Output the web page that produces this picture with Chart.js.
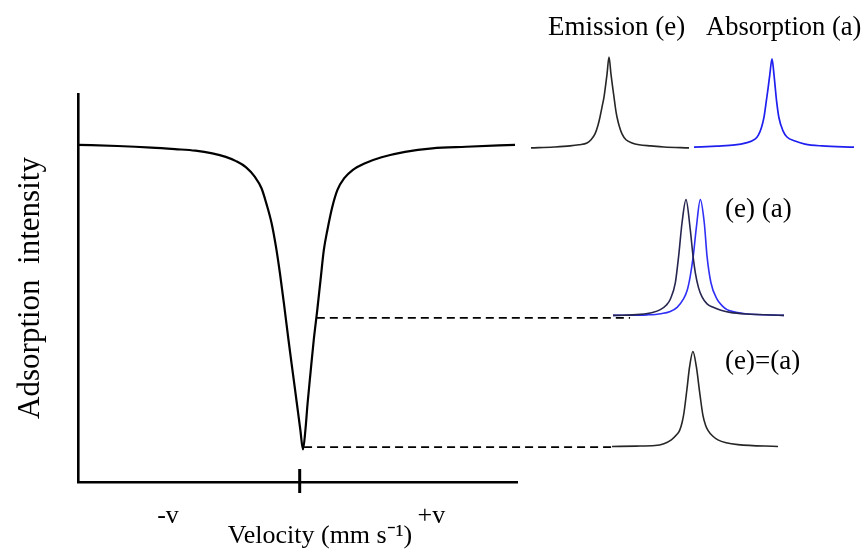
<!DOCTYPE html>
<html>
<head>
<meta charset="utf-8">
<script src="https://cdn.jsdelivr.net/npm/chart.js@4/dist/chart.umd.min.js"></script>
<style>
  body { margin: 0; background: #fff; }
  #wrap { position: relative; width: 864px; height: 549px; overflow: hidden; }
  canvas { position: absolute; }
  .lbl { position: absolute; font-family: "Liberation Serif", serif; font-size: 27px; line-height: 27px; color: #000; white-space: nowrap; }
</style>
</head>
<body>
<div id="wrap">
  <canvas id="ChartMain" width="640" height="549" style="left:0;top:0"></canvas>
  <canvas id="ChartE" width="158" height="109" style="left:531px;top:48px"></canvas>
  <canvas id="ChartA" width="160" height="106" style="left:694px;top:50px"></canvas>
  <canvas id="ChartEA" width="171" height="139" style="left:613px;top:188px"></canvas>
  <canvas id="ChartSame" width="166" height="114" style="left:612px;top:342px"></canvas>
  <div class="lbl" style="left:548px;top:13px">Emission (e)</div>
  <div class="lbl" style="left:706px;top:13px;font-size:26.5px">Absorption (a)</div>
  <div class="lbl" style="left:725px;top:195px">(e) (a)</div>
  <div class="lbl" style="left:725px;top:347px">(e)=(a)</div>
</div>
<script>
// main spectrum (velocity, intensity)
let mainX = [-10.1, -8.30, -6.76, -5.68, -4.75, -3.98, -3.37, -2.90, -2.44, -2.05, -1.74, -1.52, -1.28, -1.08, -0.90, -0.72, -0.51, -0.31, -0.13, 0.03, 0.15,
             0.26, 0.36, 0.49, 0.64, 0.80, 0.95, 1.10, 1.26, 1.49, 1.72, 2.03, 2.41, 2.95, 3.73, 4.80, 6.04, 7.58, 9.81];
let mainY = [86.9, 86.6, 86.2, 85.8, 85.4, 84.7, 83.8, 82.7, 81.1, 78.7, 75.7, 71.8, 66.7, 60.6, 53.8, 46.1, 36.6, 28.0, 20.3, 13.4, 8.4,
             13.4, 20.3, 28.0, 36.6, 44.3, 52.1, 59.8, 64.9, 71.0, 75.3, 78.3, 80.4, 82.1, 83.7, 85.1, 86.0, 86.4, 86.9];
let tickValues = [-6, 6];
let tickLabels = ['-v', '+v'];
// dashed guide lines
let upperDashX = [0.78, 15.05];
let upperDashY = [42.3, 42.3];
let lowerDashX = [0.2, 14.2];
let lowerDashY = [9.0, 9.0];
let centreMarkX = [0, 0];
let centreMarkY = [-2.84, 3.35];

// small line shapes
let emisX = [-7.8, -5.5, -3.9, -3.0, -2.2, -1.8, -1.4, -1.1, -0.9, -0.7, -0.5, -0.35, -0.2, 0, 0.2, 0.35, 0.5, 0.7, 0.8, 1.0, 1.3, 1.7, 2.3, 3.0, 4.2, 5.5, 8.0];
let emisY = [0, 0.01, 0.022, 0.035, 0.055, 0.09, 0.154, 0.25, 0.34, 0.45, 0.56, 0.68, 0.81, 1, 0.81, 0.68, 0.56, 0.4, 0.34, 0.25, 0.154, 0.09, 0.055, 0.035, 0.022, 0.01, 0];
let absX = [-7.8, -5.5, -3.7, -2.7, -1.7, -1.35, -1.06, -0.8, -0.56, -0.4, -0.22, 0, 0.2, 0.32, 0.45, 0.7, 1.1, 1.5, 2.3, 3.3, 5.0, 8.2];
let absY = [0, 0.012, 0.025, 0.045, 0.09, 0.14, 0.22, 0.34, 0.53, 0.66, 0.82, 1, 0.82, 0.68, 0.53, 0.33, 0.185, 0.115, 0.07, 0.035, 0.014, 0];
let pairEX = [-7.5, -4.94, -3.8, -3.07, -2.5, -2.14, -1.67, -1.36, -1.04, -0.67, -0.27, -0.02, 0.20, 0.5, 0.83, 1.3, 1.88, 2.6, 3.47, 5.0, 8.5];
let pairEY = [0, 0.009, 0.025, 0.05, 0.09, 0.14, 0.28, 0.51, 0.80, 1, 0.74, 0.52, 0.37, 0.24, 0.16, 0.1, 0.07, 0.045, 0.026, 0.012, 0];
let pairAX = [-7.5, -4.29, -3.0, -2.14, -1.5, -0.92, -0.55, -0.27, 0.02, 0.30, 0.67, 1.04, 1.30, 1.67, 2.23, 2.7, 3.17, 4.0, 4.88, 8.5];
let pairAY = [0, 0.005, 0.015, 0.034, 0.07, 0.14, 0.22, 0.34, 0.52, 0.76, 1, 0.80, 0.51, 0.28, 0.14, 0.085, 0.05, 0.028, 0.015, 0];
let sameX = [-7.8, -5.5, -3.66, -2.8, -2.08, -1.6, -1.28, -1.05, -0.87, -0.58, -0.32, 0, 0.33, 0.65, 0.96, 1.2, 1.45, 1.9, 2.41, 3.2, 4.34, 8.2];
let sameY = [0, 0.004, 0.01, 0.03, 0.07, 0.12, 0.17, 0.25, 0.35, 0.60, 0.84, 1, 0.84, 0.57, 0.33, 0.23, 0.17, 0.11, 0.07, 0.04, 0.02, 0];

let serif = '"Liberation Serif", "Times New Roman", serif';

function pts(xs, ys) {
  return xs.map(function(x, i) { return {x: x, y: ys[i]}; });
}

function lineSet(xs, ys, color, width, extra) {
  let ds = {
    data: pts(xs, ys),
    showLine: true,
    borderColor: color,
    borderWidth: width,
    pointRadius: 0,
    fill: false,
    clip: false,
    cubicInterpolationMode: 'monotone'
  };
  return Object.assign(ds, extra || {});
}

function createMain() {
  let ctx = document.getElementById('ChartMain').getContext('2d');
  new Chart(ctx, {
    type: 'scatter',
    data: {
      datasets: [
        lineSet(mainX, mainY, '#000', 2.2),
        lineSet(upperDashX, upperDashY, '#000', 1.8, {borderDash: [8, 5]}),
        lineSet(lowerDashX, lowerDashY, '#000', 1.8, {borderDash: [8, 5]}),
        lineSet(centreMarkX, centreMarkY, '#000', 3)
      ]
    },
    options: {
      responsive: false,
      animation: false,
      layout: {padding: {top: 94, left: 0, right: 0, bottom: 0}},
      plugins: {
        legend: {display: false},
        tooltip: {enabled: false},
        title: {
          display: true,
          position: 'bottom',
          text: 'Velocity (mm s\u207B\u00B9)',
          color: '#000',
          font: {family: serif, size: 26, weight: 'normal', lineHeight: 1},
          padding: {top: 0, bottom: 0}
        }
      },
      scales: {
        x: {
          type: 'linear',
          min: -10.1,
          max: 9.9,
          grid: {display: false},
          border: {display: true, color: '#000', width: 2.6},
          afterBuildTicks: function(s) { s.ticks = tickValues.map(function(v) { return {value: v}; }); },
          afterFit: function(s) { s.height = 41; },
          ticks: {
            color: '#000',
            padding: 11,
            maxRotation: 0,
            autoSkip: false,
            font: {family: serif, size: 26},
            callback: function(v, i) { return tickLabels[i]; }
          }
        },
        y: {
          type: 'linear',
          min: 0,
          max: 100,
          grid: {display: false},
          border: {display: true, color: '#000', width: 2.6},
          ticks: {display: false},
          afterFit: function(s) { s.width = 78; },
          title: {
            display: true,
            text: 'Adsorption  intensity',
            color: '#000',
            font: {family: serif, size: 31},
            padding: {top: 12, bottom: 0}
          }
        },
        yR: {
          type: 'linear',
          position: 'right',
          grid: {display: false},
          border: {display: false},
          ticks: {display: false},
          afterFit: function(s) { s.width = 123; }
        }
      }
    }
  });
}

function createPeak(id, datasets, xMin, xMax) {
  let ctx = document.getElementById(id).getContext('2d');
  new Chart(ctx, {
    type: 'scatter',
    data: {datasets: datasets},
    options: {
      responsive: false,
      animation: false,
      layout: {padding: 0},
      plugins: {legend: {display: false}, tooltip: {enabled: false}},
      scales: {
        x: {type: 'linear', min: xMin, max: xMax, display: false},
        y: {type: 'linear', min: -0.1, max: 1.1, display: false}
      }
    }
  });
}

createMain();
createPeak('ChartE', [lineSet(emisX, emisY, '#262626', 1.6)], -7.8, 8.0);
createPeak('ChartA', [lineSet(absX, absY, '#1f1ff0', 1.7)], -7.8, 8.2);
createPeak('ChartEA', [
  lineSet(pairEX, pairEY, '#25254f', 1.6),
  lineSet(pairAX, pairAY, '#2f2ff5', 1.6)
], -7.5, 8.5);
createPeak('ChartSame', [lineSet(sameX, sameY, '#262626', 1.6)], -7.8, 8.2);
</script>
</body>
</html>
